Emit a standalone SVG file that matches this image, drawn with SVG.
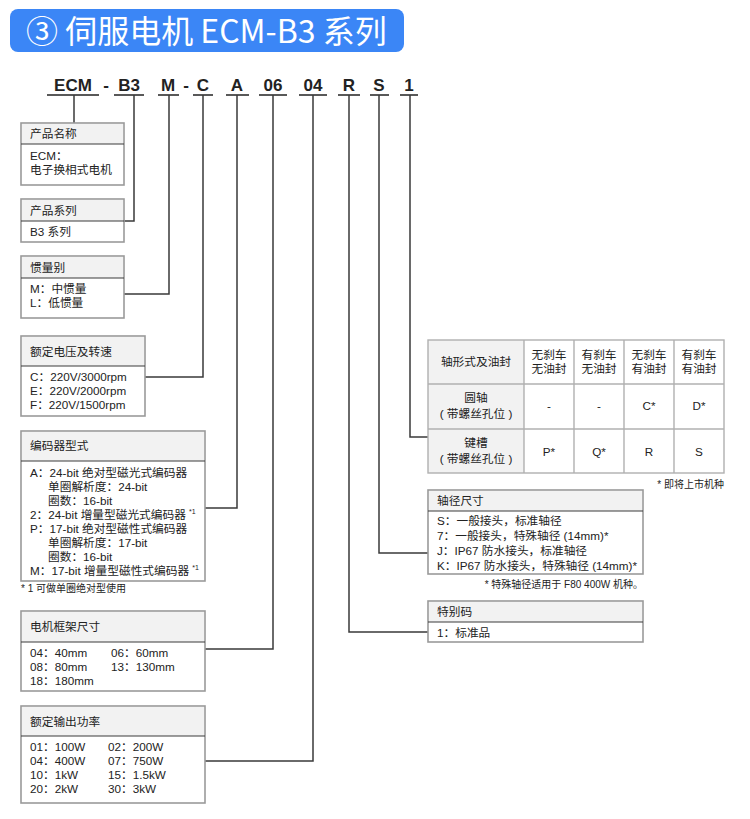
<svg xmlns="http://www.w3.org/2000/svg" width="750" height="819" viewBox="0 0 750 819">
<style>
text{font-family:"Liberation Sans","Noto Sans CJK SC",sans-serif;fill:#222;font-size:11.7px}
.title{font-family:"Noto Sans CJK SC","Noto Sans",sans-serif;fill:#fff;font-size:32px}
.code{font-weight:bold;font-size:17px;text-anchor:middle}
.box{fill:#fff;stroke:#9a9a9a;stroke-width:1.6}
.hdr{fill:#f2f2f2}
.div{stroke:#3a3a3a;stroke-width:1.2}
.ln{fill:none;stroke:#3a3a3a;stroke-width:1.5}
.ul{stroke:#222;stroke-width:1.5}
.sup{font-size:7px}
.note{font-size:10px}
.c{text-anchor:middle}
.r{text-anchor:end}
.tb{fill:none;stroke:#b0b0b0;stroke-width:1.4}
</style>
<g id="title">
<rect x="10" y="9" width="394" height="43" rx="8" fill="#3b86f6"/>
<text class="title" x="26" y="43">③ 伺服电机 ECM-B3 系列</text>
</g>
<g id="code">
<text class="code" x="73" y="91">ECM</text>
<text class="code" x="106" y="91">-</text>
<text class="code" x="129" y="91">B3</text>
<text class="code" x="168" y="91">M</text>
<text class="code" x="186" y="91">-</text>
<text class="code" x="203" y="91">C</text>
<text class="code" x="237" y="91">A</text>
<text class="code" x="273" y="91">06</text>
<text class="code" x="313" y="91">04</text>
<text class="code" x="349" y="91">R</text>
<text class="code" x="379" y="91">S</text>
<text class="code" x="409" y="91">1</text>
<line class="ul" x1="47" y1="95" x2="99" y2="95"/>
<line class="ul" x1="114" y1="95" x2="144" y2="95"/>
<line class="ul" x1="158" y1="95" x2="179" y2="95"/>
<line class="ul" x1="193" y1="95" x2="213" y2="95"/>
<line class="ul" x1="226" y1="95" x2="249" y2="95"/>
<line class="ul" x1="259" y1="95" x2="287" y2="95"/>
<line class="ul" x1="299" y1="95" x2="327" y2="95"/>
<line class="ul" x1="338" y1="95" x2="360" y2="95"/>
<line class="ul" x1="370" y1="95" x2="389" y2="95"/>
<line class="ul" x1="400" y1="95" x2="418" y2="95"/>
</g>
<g id="connectors">
<polyline class="ln" points="74,95 74,123"/>
<polyline class="ln" points="134,95 134,221 124,221"/>
<polyline class="ln" points="169,95 169,294 124,294"/>
<polyline class="ln" points="203,95 203,377 145,377"/>
<polyline class="ln" points="237,95 237,508 205,508"/>
<polyline class="ln" points="273,95 273,649 205,649"/>
<polyline class="ln" points="313,95 313,761 205,761"/>
<polyline class="ln" points="349,95 349,632 428,632"/>
<polyline class="ln" points="379,95 379,553 428,553"/>
<polyline class="ln" points="410,95 410,437 428,437"/>
</g>
<g id="box-name">
<rect class="box" x="21" y="123" width="103" height="62"/>
<rect class="hdr" x="22" y="124" width="101" height="20"/>
<line class="div" x1="21" y1="144" x2="124" y2="144"/>
<text x="30" y="138">产品名称</text>
<text x="30" y="160">ECM：</text>
<text x="30" y="174">电子换相式电机</text>
</g>
<g id="box-series">
<rect class="box" x="21" y="199" width="103" height="43"/>
<rect class="hdr" x="22" y="200" width="101" height="21"/>
<line class="div" x1="21" y1="221" x2="124" y2="221"/>
<text x="30" y="215">产品系列</text>
<text x="30" y="236">B3 系列</text>
</g>
<g id="box-inertia">
<rect class="box" x="21" y="256" width="103" height="62"/>
<rect class="hdr" x="22" y="257" width="101" height="21"/>
<line class="div" x1="21" y1="278" x2="124" y2="278"/>
<text x="30" y="272">惯量别</text>
<text x="30" y="293">M：中惯量</text>
<text x="30" y="307">L：低惯量</text>
</g>
<g id="box-voltage">
<rect class="box" x="21" y="336" width="124" height="80"/>
<rect class="hdr" x="22" y="337" width="122" height="29"/>
<line class="div" x1="21" y1="366" x2="145" y2="366"/>
<text x="30" y="356">额定电压及转速</text>
<text x="30" y="381">C：220V/3000rpm</text>
<text x="30" y="395">E：220V/2000rpm</text>
<text x="30" y="409">F：220V/1500rpm</text>
</g>
<g id="box-encoder">
<rect class="box" x="21" y="431" width="184" height="150"/>
<rect class="hdr" x="22" y="432" width="182" height="29"/>
<line class="div" x1="21" y1="461" x2="205" y2="461"/>
<text x="30" y="450">编码器型式</text>
<text x="30" y="477">A：24-bit 绝对型磁光式编码器</text>
<text x="48" y="491">单圈解析度：24-bit</text>
<text x="48" y="505">圈数：16-bit</text>
<text x="30" y="519">2：24-bit 增量型磁光式编码器 <tspan class="sup" dy="-5">*1</tspan></text>
<text x="30" y="533">P：17-bit 绝对型磁性式编码器</text>
<text x="48" y="547">单圈解析度：17-bit</text>
<text x="48" y="561">圈数：16-bit</text>
<text x="30" y="575">M：17-bit 增量型磁性式编码器 <tspan class="sup" dy="-5">*1</tspan></text>
<text class="note" x="21" y="592">* 1 可做单圈绝对型使用</text>
</g>
<g id="box-frame">
<rect class="box" x="21" y="611" width="184" height="80"/>
<rect class="hdr" x="22" y="612" width="182" height="30"/>
<line class="div" x1="21" y1="642" x2="205" y2="642"/>
<text x="30" y="631">电机框架尺寸</text>
<text x="30" y="657">04：40mm</text>
<text x="111" y="657">06：60mm</text>
<text x="30" y="671">08：80mm</text>
<text x="111" y="671">13：130mm</text>
<text x="30" y="685">18：180mm</text>
</g>
<g id="box-power">
<rect class="box" x="21" y="706" width="184" height="97"/>
<rect class="hdr" x="22" y="707" width="182" height="29"/>
<line class="div" x1="21" y1="736" x2="205" y2="736"/>
<text x="30" y="726">额定输出功率</text>
<text x="30" y="751">01：100W</text>
<text x="108" y="751">02：200W</text>
<text x="30" y="765">04：400W</text>
<text x="108" y="765">07：750W</text>
<text x="30" y="779">10：1kW</text>
<text x="108" y="779">15：1.5kW</text>
<text x="30" y="793">20：2kW</text>
<text x="108" y="793">30：3kW</text>
</g>
<g id="table-shaft">
<rect x="428" y="340" width="96" height="133" fill="#f2f2f2"/>
<rect x="524" y="340" width="200" height="133" fill="#fff"/>
<rect class="tb" x="428" y="340" width="296" height="133"/>
<line class="tb" x1="428" y1="384" x2="724" y2="384"/>
<line class="tb" x1="428" y1="429" x2="724" y2="429"/>
<line class="tb" x1="524" y1="340" x2="524" y2="473"/>
<line class="tb" x1="574" y1="340" x2="574" y2="473"/>
<line class="tb" x1="624" y1="340" x2="624" y2="473"/>
<line class="tb" x1="674" y1="340" x2="674" y2="473"/>
<text class="c" x="476" y="366">轴形式及油封</text>
<text class="c" x="549" y="359">无刹车</text>
<text class="c" x="549" y="373">无油封</text>
<text class="c" x="599" y="359">有刹车</text>
<text class="c" x="599" y="373">无油封</text>
<text class="c" x="649" y="359">无刹车</text>
<text class="c" x="649" y="373">有油封</text>
<text class="c" x="699" y="359">有刹车</text>
<text class="c" x="699" y="373">有油封</text>
<text class="c" x="476" y="402">圆轴</text>
<text class="c" x="476" y="418">( 带螺丝孔位 )</text>
<text class="c" x="549" y="410">-</text>
<text class="c" x="599" y="410">-</text>
<text class="c" x="649" y="410">C*</text>
<text class="c" x="699" y="410">D*</text>
<text class="c" x="476" y="447">键槽</text>
<text class="c" x="476" y="463">( 带螺丝孔位 )</text>
<text class="c" x="549" y="456">P*</text>
<text class="c" x="599" y="456">Q*</text>
<text class="c" x="649" y="456">R</text>
<text class="c" x="699" y="456">S</text>
<text class="note r" x="724" y="488">* 即将上市机种</text>
</g>
<g id="box-diameter">
<rect class="box" x="428" y="490" width="215" height="84"/>
<rect class="hdr" x="429" y="491" width="213" height="20"/>
<line class="div" x1="428" y1="511" x2="643" y2="511"/>
<text x="437" y="505">轴径尺寸</text>
<text x="437" y="525">S：一般接头，标准轴径</text>
<text x="437" y="540">7：一般接头，特殊轴径 (14mm)*</text>
<text x="437" y="555">J：IP67 防水接头，标准轴径</text>
<text x="437" y="570">K：IP67 防水接头，特殊轴径 (14mm)*</text>
<text class="note r" x="643" y="588">* 特殊轴径适用于 F80 400W 机种。</text>
</g>
<g id="box-special">
<rect class="box" x="428" y="601" width="215" height="41"/>
<rect class="hdr" x="429" y="602" width="213" height="20"/>
<line class="div" x1="428" y1="622" x2="643" y2="622"/>
<text x="437" y="616">特别码</text>
<text x="437" y="637">1：标准品</text>
</g>
</svg>
